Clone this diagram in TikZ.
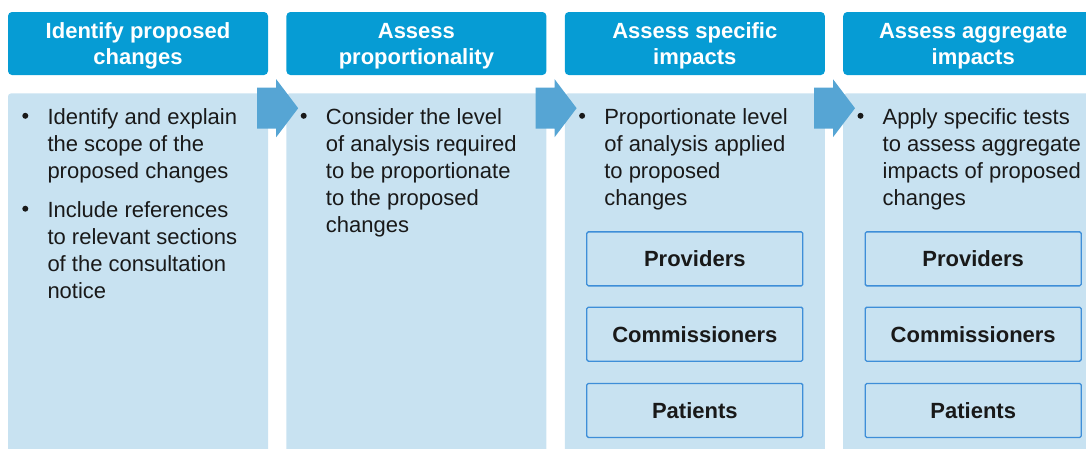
\documentclass[tikz,border=0pt]{standalone}
\usepackage{fontspec}
\setmainfont{Liberation Sans}
\usetikzlibrary{positioning}

\definecolor{headblue}{RGB}{6,156,212}
\definecolor{bodyblue}{RGB}{200,226,241}
\definecolor{arrowblue}{RGB}{86,165,212}
\definecolor{boxblue}{RGB}{62,142,216}

\tikzset{
	head/.style={fill=headblue, rounded corners=4pt, minimum width=260pt, minimum height=63pt, inner sep=0pt},
	headtext/.style={inner sep=0pt, align=center, text=white, font=\bfseries\fontsize{22}{26}\selectfont},
	body/.style={fill=bodyblue, rounded corners=3pt, minimum width=260pt, minimum height=380pt, inner sep=0pt},
	item/.style={inner sep=0pt, align=left, text=black!90, font=\fontsize{22}{27}\selectfont},
	group/.style={draw=boxblue, line width=1.3pt, rounded corners=1.5pt, minimum width=216pt,
		minimum height=54pt, inner sep=0pt, text=black!90, font=\bfseries\fontsize{22}{26}\selectfont},
}

\begin{document}
\begin{tikzpicture}[x=1pt,y=-1pt, line join=round, line cap=round]
	\clip (0,0) rectangle (1086,448);
	%% khung tieu de va than cac cot
	\node[head] (h1) at (138,43.5) {};
	\node[head, right=18pt of h1] (h2) {};
	\node[head, right=18pt of h2] (h3) {};
	\node[head, right=18pt of h3] (h4) {};
	\foreach \i in {1,2,3,4}
	\node[body, below=18pt of h\i] (b\i) {};
	
	%% tieu de
	\foreach \i/\t in {1/{Identify proposed\\changes}, 2/{Assess\\proportionality},
		3/{Assess specific\\impacts}, 4/{Assess aggregate\\impacts}}
	\node[headtext] (t\i) at ([yshift=-2.5pt]h\i.center) {\t};
	
	%% noi dung
	\node[item, below right=15.6pt and 39.5pt of b1.north west] (i1)
	{Identify and explain\\the scope of the\\proposed changes};
	\node[item, below right=18pt and 0pt of i1.south west] (i2)
	{Include references\\to relevant sections\\of the consultation\\notice};
	\node[item, below right=15.6pt and 39.5pt of b2.north west] (i3)
	{Consider the level\\of analysis required\\to be proportionate\\to the proposed\\changes};
	\node[item, below right=15.6pt and 39.5pt of b3.north west] (i4)
	{Proportionate level\\of analysis applied\\to proposed\\changes};
	\node[item, below right=15.6pt and 39.5pt of b4.north west] (i5)
	{Apply specific tests\\to assess aggregate\\impacts of proposed\\changes};
	
	%% vẽ dấu đầu dòng
	\foreach \n in {i1,i2,i3,i4,i5}
	\fill[black!90] ([xshift=-22pt,yshift=-7pt]\n.north west) circle (3);
	
	%% cac nhom chiu tac dong
	\foreach \i in {3,4}{
		\node[group, below=138pt of b\i.north] (p\i) {Providers};
		\node[group, below=20pt of p\i] (c\i) {Commissioners};
		\node[group, below=21pt of c\i] (pa\i) {Patients};
	}
	
	%% mui ten giua cac cot
	\foreach \b in {b2,b3,b4}
	\fill[arrowblue] ([xshift=12pt,yshift=-15pt]\b.north west) -- ++(-22,-29) -- ++(0,8.5)
	-- ++(-19,0) -- ++(0,41) -- ++(19,0) -- ++(0,8.5) -- cycle;
\end{tikzpicture}
\end{document}
